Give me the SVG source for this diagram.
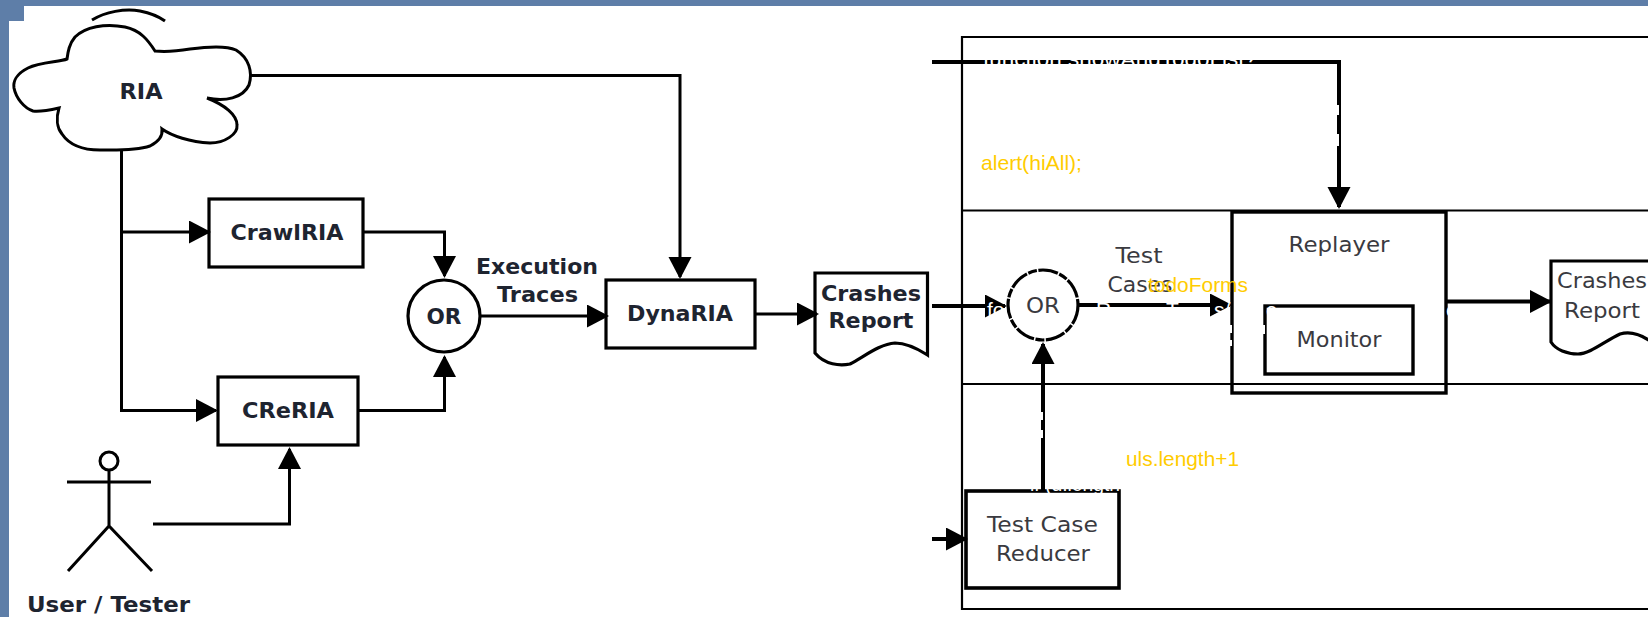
<svg xmlns="http://www.w3.org/2000/svg" width="1648" height="617" viewBox="0 0 1648 617">
<style>
.s{fill:none;stroke:#000;stroke-width:3}
.b{fill:#fff;stroke:#000;stroke-width:3.2}
.c{fill:none;stroke:#000;stroke-width:3;stroke-linejoin:miter}
.t{stroke-width:4}
.f{fill:none;stroke:#000;stroke-width:2.2}
.tb{font-family:"DejaVu Sans",sans-serif;font-weight:bold;font-size:22px;fill:#1e2430;text-anchor:middle;dominant-baseline:central}
.tr{font-family:"DejaVu Sans",sans-serif;font-size:22px;fill:#3a3a40;text-anchor:middle;dominant-baseline:central}
.y{font-family:"Liberation Sans",Arial,sans-serif;font-size:21px;fill:#ffcc00}
.w{font-family:"Liberation Sans",Arial,sans-serif;font-size:21px;fill:#fff}
.gap{fill:#fff}
</style>
<defs>
<marker id="arrow" markerUnits="userSpaceOnUse" markerWidth="24" markerHeight="24" refX="20" refY="11.5" orient="auto"><path d="M0 0L22 11.5L0 23z" fill="#000"/></marker>
</defs>
<rect width="1648" height="617" fill="#5e7ea8"/>
<rect x="24" y="6" width="1624" height="611" fill="#fff"/>
<rect x="9" y="21" width="1639" height="596" fill="#fff"/>
<g id="frame">
<path class="f" d="M1648 37H962V609H1648M962 210.500H1648M962 384H1648"/>
</g>
<g id="ria">
<path d="M92 20C105 12 125 8 140 11C150 13 158 16 165 21" class="s"/>
<path class="s" style="fill:#fff" d="M67 59C60 62 40 62 28 68C16 74 13 82 14 88C16 98 24 108 33 111C40 112 50 110 59 108C56 118 57 128 62 134C70 146 85 150 100 150C115 150 135 151 150 146C158 142 163 137 162 129C172 136 190 142 210 143C225 143 238 134 237 125C237 115 225 105 207 98C225 102 243 98 249 85C253 72 249 58 236 50C225 45 205 47 190 49C178 51 165 52 155 51C148 40 140 30 125 27C105 23 85 27 75 37C69 44 68 52 67 59z"/>
<text class="tb" x="141" y="91" textLength="43" lengthAdjust="spacingAndGlyphs">RIA</text>
</g>
<g id="crawlria">
<rect class="b" x="209" y="199" width="154" height="68"/>
<text class="tb" x="287" y="232" textLength="113" lengthAdjust="spacingAndGlyphs">CrawlRIA</text>
</g>
<g id="creria">
<rect class="b" x="218" y="377" width="140" height="68"/>
<text class="tb" x="288" y="410" textLength="92" lengthAdjust="spacingAndGlyphs">CReRIA</text>
</g>
<g id="or1">
<circle class="b" cx="444" cy="316" r="36"/>
<text class="tb" x="444" y="316" textLength="35" lengthAdjust="spacingAndGlyphs">OR</text>
</g>
<g id="dynaria">
<rect class="b" x="606" y="280" width="149" height="68"/>
<text class="tb" x="680" y="313" textLength="106" lengthAdjust="spacingAndGlyphs">DynaRIA</text>
</g>
<g id="crashes1">
<path class="b" d="M815 273H927.500V355C915 347 905 343 895 343C880 344 865 356 850 364C840 366 825 365 815 353z"/>
<text class="tb" x="871" y="293" textLength="100" lengthAdjust="spacingAndGlyphs">Crashes</text>
<text class="tb" x="871" y="320" textLength="85" lengthAdjust="spacingAndGlyphs">Report</text>
</g>
<g id="user">
<circle class="s" cx="109" cy="461" r="9"/>
<path class="s" d="M67 482H151M109 470V526M68 571L109 526L152 571"/>
<text class="tb" x="108.500" y="604" textLength="163" lengthAdjust="spacingAndGlyphs">User / Tester</text>
</g>
<g id="or2">
<circle class="b" cx="1043" cy="305" r="35" stroke-dasharray="20 1.500 9 1.500"/>
<text class="tr" x="1043" y="305" textLength="34" lengthAdjust="spacingAndGlyphs">OR</text>
</g>
<g id="replayer">
<rect x="1232" y="212" width="214" height="181" fill="none" stroke="#000" stroke-width="3.400"/>
<text class="tr" x="1339" y="244" textLength="101" lengthAdjust="spacingAndGlyphs">Replayer</text>
</g>
<g id="monitor">
<rect x="1265" y="306" width="148" height="68" fill="#fff" stroke="#000" stroke-width="3.400"/>
<text class="tr" x="1339" y="339" textLength="85" lengthAdjust="spacingAndGlyphs">Monitor</text>
</g>
<g id="crashes2">
<path class="b" d="M1648 261H1551V342C1556 350 1567 354 1578 354C1590 354 1605 341 1620 334C1630 331 1640 334 1650 341"/>
<text class="tr" x="1602" y="280" textLength="90" lengthAdjust="spacingAndGlyphs">Crashes</text>
<text class="tr" x="1602" y="310" textLength="76" lengthAdjust="spacingAndGlyphs">Report</text>
</g>
<g id="reducer">
<rect x="966" y="491" width="153" height="97" fill="#fff" stroke="#000" stroke-width="3.600"/>
<text class="tr" x="1042.500" y="524" textLength="111" lengthAdjust="spacingAndGlyphs">Test Case</text>
<text class="tr" x="1043" y="553" textLength="94" lengthAdjust="spacingAndGlyphs">Reducer</text>
</g>
<g id="connector-labels">
<text class="tb" x="537" y="266" textLength="122" lengthAdjust="spacingAndGlyphs">Execution</text>
<text class="tb" x="537.500" y="294" textLength="81" lengthAdjust="spacingAndGlyphs">Traces</text>
<text class="tr" x="1139" y="255" textLength="47" lengthAdjust="spacingAndGlyphs">Test</text>
<text class="tr" x="1140" y="284" textLength="65" lengthAdjust="spacingAndGlyphs">Cases</text>
</g>
<g id="connectors">
<path class="c" d="M251 75.500H680V277" marker-end="url(#arrow)"/>
<path class="c" d="M121.500 150V410.500H216" marker-end="url(#arrow)"/>
<path class="c" d="M121.500 232H209" marker-end="url(#arrow)"/>
<path class="c" d="M363 232H444.500V276" marker-end="url(#arrow)"/>
<path class="c" d="M358 410.500H444.500V357" marker-end="url(#arrow)"/>
<path class="c" d="M153 524H289.500V449" marker-end="url(#arrow)"/>
<path class="c" d="M480 316H607" marker-end="url(#arrow)"/>
<path class="c" d="M755 314H817" marker-end="url(#arrow)"/>
<path class="c t" d="M932 306H1005" marker-end="url(#arrow)"/>
<path class="c t" d="M932 62H1339V207" marker-end="url(#arrow)"/>
<path class="c t" d="M1078 305H1230" marker-end="url(#arrow)"/>
<path class="c t" d="M1447 301.500H1550" marker-end="url(#arrow)"/>
<path class="c t" d="M1043 491V344" marker-end="url(#arrow)"/>
<path class="c t" d="M932 539H966" marker-end="url(#arrow)"/>
</g>
<g id="yellow-text">
<text class="y" x="981" y="170" textLength="101" lengthAdjust="spacingAndGlyphs">alert(hiAll);</text>
<text class="y" x="1148" y="292" textLength="100" lengthAdjust="spacingAndGlyphs">todoForms</text>
<text class="y" x="1126" y="466" textLength="113" lengthAdjust="spacingAndGlyphs">uls.length+1</text>
</g>
<g id="white-text">
<text class="w" x="983" y="65.500" textLength="274" lengthAdjust="spacingAndGlyphs">function showAndTodoList?</text>
<text class="w" y="317"><tspan x="987">fo</tspan><tspan x="1096">R</tspan><tspan x="1166">T</tspan><tspan x="1214">s/</tspan><tspan x="1266">c</tspan><tspan x="1446">e</tspan></text>
<text class="w" x="1030" y="491" textLength="90" lengthAdjust="spacingAndGlyphs">if (d.length</text>
<rect class="gap" x="1337" y="105" width="2" height="10"/>
<rect class="gap" x="1337" y="134" width="2" height="12"/>
<rect class="gap" x="1230" y="325" width="2" height="8"/>
<rect class="gap" x="1230" y="340" width="2" height="6"/>
<rect class="gap" x="1263" y="325" width="2" height="9"/>
<rect class="gap" x="1041" y="412" width="2" height="8"/>
<rect class="gap" x="1041" y="430" width="2" height="8"/>
</g>
</svg>
